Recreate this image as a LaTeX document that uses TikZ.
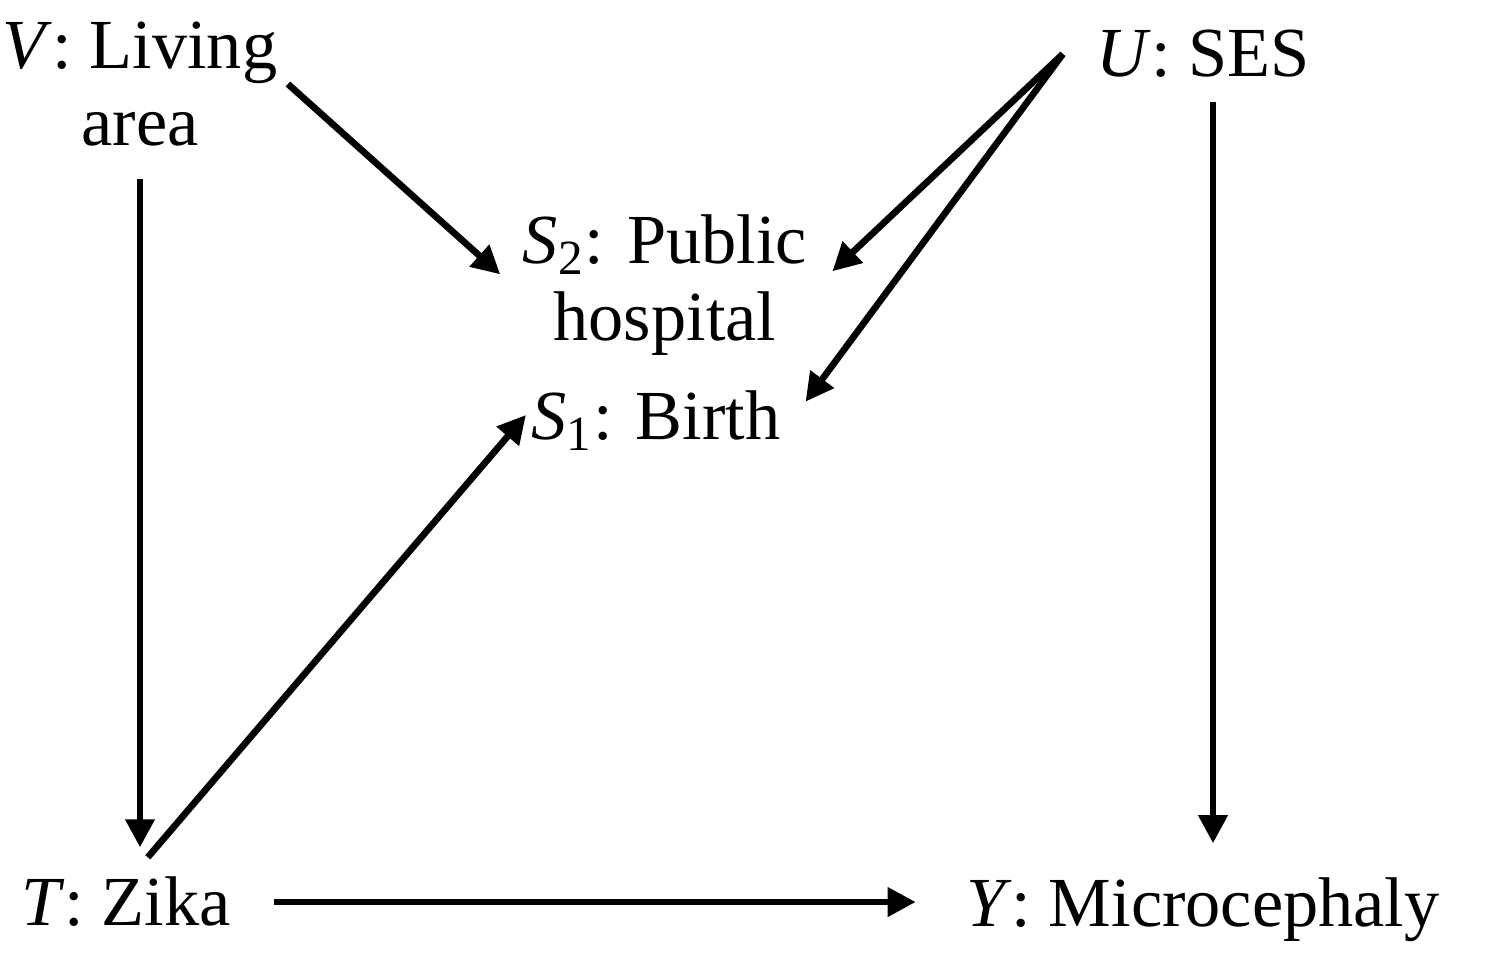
\documentclass[tikz,border=0pt]{standalone}
\usepackage{fontspec}
\setmainfont{Liberation Serif}
\usetikzlibrary{arrows.meta}

\begin{document}
\begin{tikzpicture}[x=0.01cm, y=-0.01cm, >={Triangle[length=8pt,width=8pt]},
  var/.style={align=center, inner sep=0.1cm, font=\fontsize{20}{22}\selectfont},
  pfeil/.style={->, line width=1.9pt}]
\useasboundingbox (0,0) rectangle (1501,959);
\node [var, name=living] at (140,84) {\textit{V}: Living\\area};
\node [var, name=ses] at (1203,54) {\textit{U}: SES};
\node [var, name=hospital] at (665,285) {\textit{S}\textsubscript{2}: Public\\hospital};
\node [var, name=birth] at (656,421) {\textit{S}\textsubscript{1}: Birth};
\node [var, name=zika] at (126,902) {\textit{T}: Zika};
\node [var, name=micro] at (1203,910) {\textit{Y}: Microcephaly};
\draw [pfeil, shorten >=0.16cm] (living.east) -- (hospital.west);
\draw [pfeil, shorten <=0.22cm, shorten >=0.19cm] (living.south) -- (living.south |- zika.north);
\draw [pfeil, shorten <=0.12cm, shorten >=-0.08cm] (living.south |- zika.north) -- (birth.west);
\draw [pfeil, shorten <=0.33cm, shorten >=0.4cm] (zika.east) -- (zika.east -| micro.west);
\draw [pfeil, shorten <=0.13cm, shorten >=0.24cm] ([xshift=0.1cm]ses.south) -- ([xshift=0.1cm]micro.north);
\draw [pfeil, shorten >=0.2cm] ([xshift=-0.23cm]ses.west) -- (hospital.east);
\draw [pfeil, shorten >=0.24cm] ([xshift=-0.23cm]ses.west) -- (birth.east);
\end{tikzpicture}
\end{document}
